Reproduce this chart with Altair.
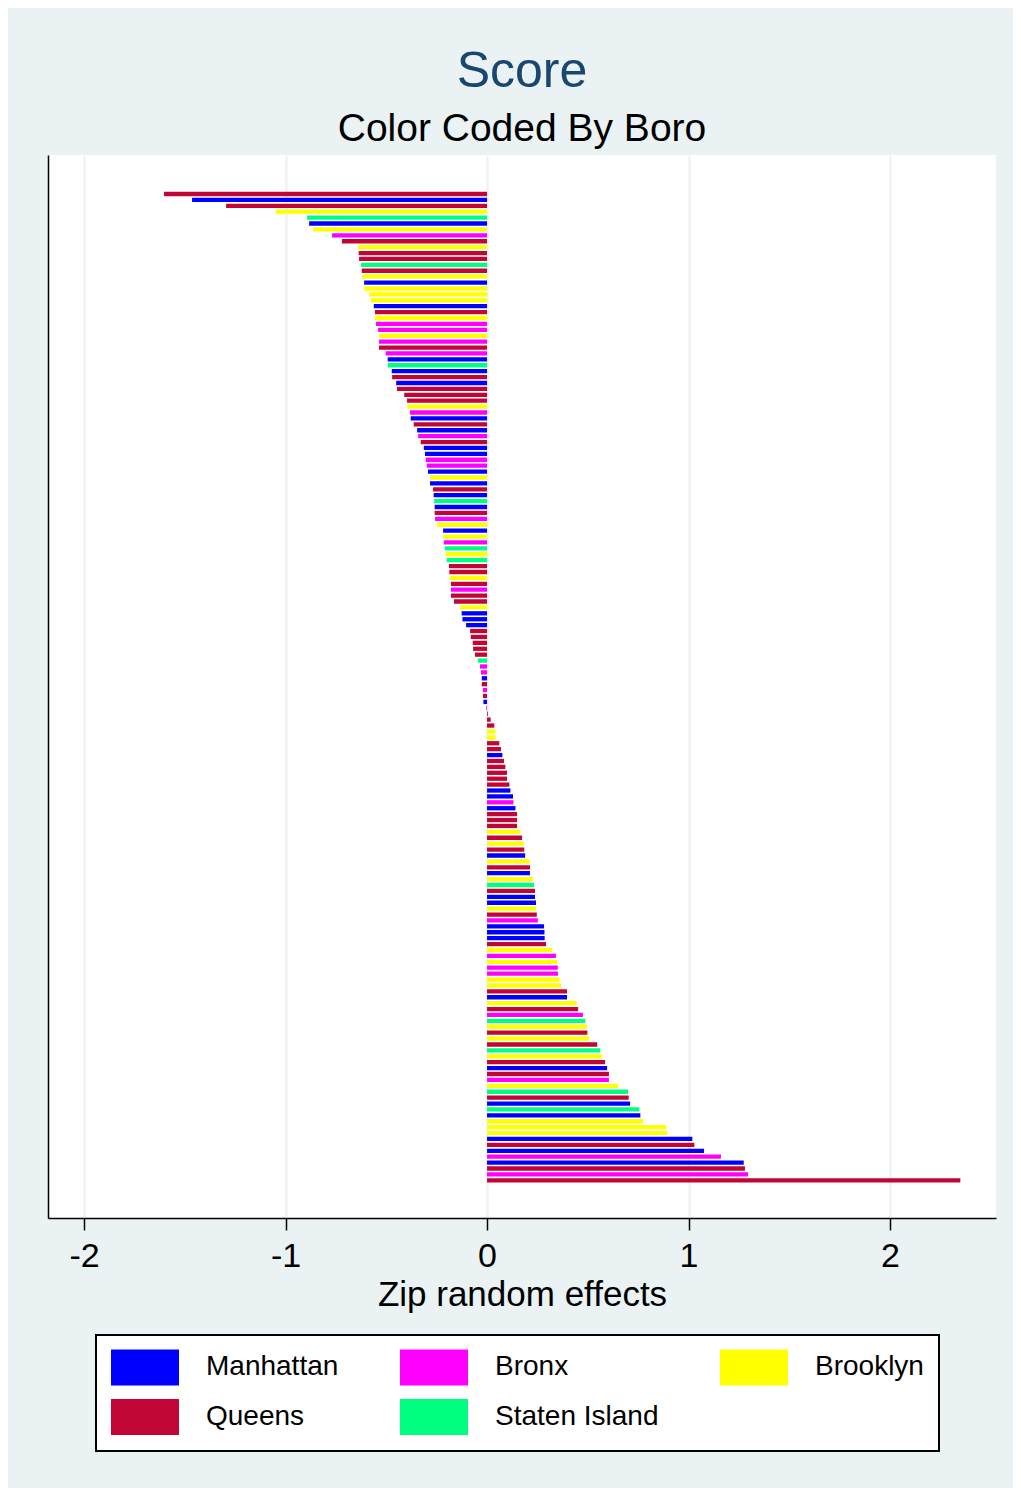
import altair as alt
import pandas as pd

# Zip random effects, sorted ascending (top to bottom), with borough code
effects = [
    -1.603, -1.464, -1.295, -1.049, -0.893, -0.883, -0.863, -0.769, -0.720, -0.640,
    -0.637, -0.635, -0.625, -0.622, -0.620, -0.610, -0.610, -0.585, -0.576, -0.562,
    -0.556, -0.556, -0.551, -0.541, -0.536, -0.536, -0.536, -0.503, -0.493, -0.493,
    -0.473, -0.471, -0.451, -0.447, -0.411, -0.397, -0.395, -0.382, -0.379, -0.364,
    -0.347, -0.342, -0.329, -0.314, -0.308, -0.304, -0.299, -0.293, -0.283, -0.283,
    -0.268, -0.265, -0.263, -0.260, -0.260, -0.258, -0.248, -0.218, -0.218, -0.215,
    -0.210, -0.205, -0.200, -0.189, -0.187, -0.185, -0.179, -0.179, -0.179, -0.164,
    -0.134, -0.126, -0.122, -0.104, -0.084, -0.081, -0.071, -0.069, -0.060, -0.045,
    -0.035, -0.030, -0.026, -0.026, -0.020, -0.020, -0.018, -0.004, 0.004, 0.018,
    0.036, 0.041, 0.043, 0.061, 0.069, 0.076, 0.084, 0.091, 0.099, 0.099,
    0.111, 0.116, 0.129, 0.131, 0.141, 0.149, 0.149, 0.149, 0.164, 0.174,
    0.182, 0.185, 0.189, 0.212, 0.213, 0.213, 0.228, 0.233, 0.238, 0.238,
    0.243, 0.243, 0.247, 0.252, 0.283, 0.285, 0.286, 0.293, 0.323, 0.342,
    0.347, 0.351, 0.352, 0.359, 0.367, 0.397, 0.397, 0.445, 0.452, 0.476,
    0.488, 0.496, 0.498, 0.506, 0.547, 0.562, 0.571, 0.586, 0.596, 0.605,
    0.605, 0.650, 0.700, 0.703, 0.710, 0.756, 0.761, 0.774, 0.888, 0.895,
    1.019, 1.029, 1.077, 1.161, 1.274, 1.280, 1.295, 2.349,
]

boro_codes = (
    "QMQBSMBXQB" "QQSQBMBBBM" "QBXXBXQXMS" "MQMQQQBXMQ"
    "MXQMMXXMBM" "QMSMQXBMBX" "SBSQQBQXQQ" "BMMMQQQQQS"
    "XXMQXQMXQQ" "QBBQQMQQQQ" "QMMXMQQQBQ" "BQMBQMBSQM"
    "MBQXMMMQBX" "BXXBBQMBQX" "SBQBQSBQMQ" "XBSQMSMBBB"
    "MQMXMQXQ"
)

boro_names = {"M": "Manhattan", "X": "Bronx", "B": "Brooklyn",
              "Q": "Queens", "S": "Staten Island"}

legend_order = ["Manhattan", "Bronx", "Brooklyn", "Queens", "Staten Island"]
legend_colors = ["#0000ff", "#ff00ff", "#ffff00", "#c10534", "#00ff80"]

x_ticks = [-2, -1, 0, 1, 2]

df = pd.DataFrame({
    "rank": list(range(1, len(effects) + 1)),
    "effect": effects,
    "base": [0.0] * len(effects),
    "boro": [boro_names[c] for c in boro_codes],
})

FONT = "Liberation Sans"

bars = alt.Chart(df).mark_bar(size=4.3).encode(
    x=alt.X(
        "effect:Q",
        scale=alt.Scale(domain=[-2.179, 2.526], nice=False, zero=False, padding=0),
        axis=alt.Axis(
            values=x_ticks,
            labelExpr="datum.value + ''",
            title="Zip random effects",
            labelFontSize=34,
            titleFontSize=35,
            labelFont=FONT,
            titleFont=FONT,
            titleFontWeight="normal",
            labelColor="black",
            titleColor="black",
            tickSize=12,
            tickColor="black",
            tickWidth=1.5,
            domainColor="black",
            domainWidth=1.5,
            grid=True,
            gridColor="#eaf2f3",
            gridWidth=2,
            labelPadding=9,
            titlePadding=4,
        ),
    ),
    x2="base:Q",
    y=alt.Y(
        "rank:Q",
        scale=alt.Scale(domain=[-5.60, 174.38], nice=False, zero=False,
                        reverse=True, padding=0),
        axis=alt.Axis(labels=False, ticks=False, grid=False, title=None,
                      domainColor="black", domainWidth=1.5),
    ),
    color=alt.Color(
        "boro:N",
        scale=alt.Scale(domain=legend_order, range=legend_colors),
        legend=alt.Legend(
            orient="none",
            direction="horizontal",
            legendX=48,
            legendY=1180,
            columns=3,
            title=None,
            symbolType="M-2,-1.06H2V1.06H-2Z",
            symbolSize=1156,
            symbolStrokeWidth=0,
            symbolOffset=17,
            labelOffset=44,
            labelFontSize=28,
            labelFont=FONT,
            labelColor="black",
            labelLimit=400,
            columnPadding=61,
            rowPadding=12,
            padding=15,
            fillColor="white",
            strokeColor="black",
        ),
    ),
).properties(
    width=948,
    height=1063,
    title=alt.TitleParams(
        "Score",
        subtitle="Color Coded By Boro",
        anchor="middle",
        font=FONT,
        fontSize=50,
        fontWeight="normal",
        color="#1a476f",
        subtitleFont=FONT,
        subtitleFontSize=39,
        subtitleColor="black",
        subtitlePadding=13,
        offset=6,
    ),
    autosize=alt.AutoSizeParams(type="none"),
    padding={"left": 40, "top": 147, "right": 17, "bottom": 270},
    background="#eaf2f3",
).configure_view(
    fill="white",
    stroke=None,
).configure_legend(
    strokeWidth=2,
)

bars.save("out.html", embed_options={"renderer": "svg", "actions": False})
